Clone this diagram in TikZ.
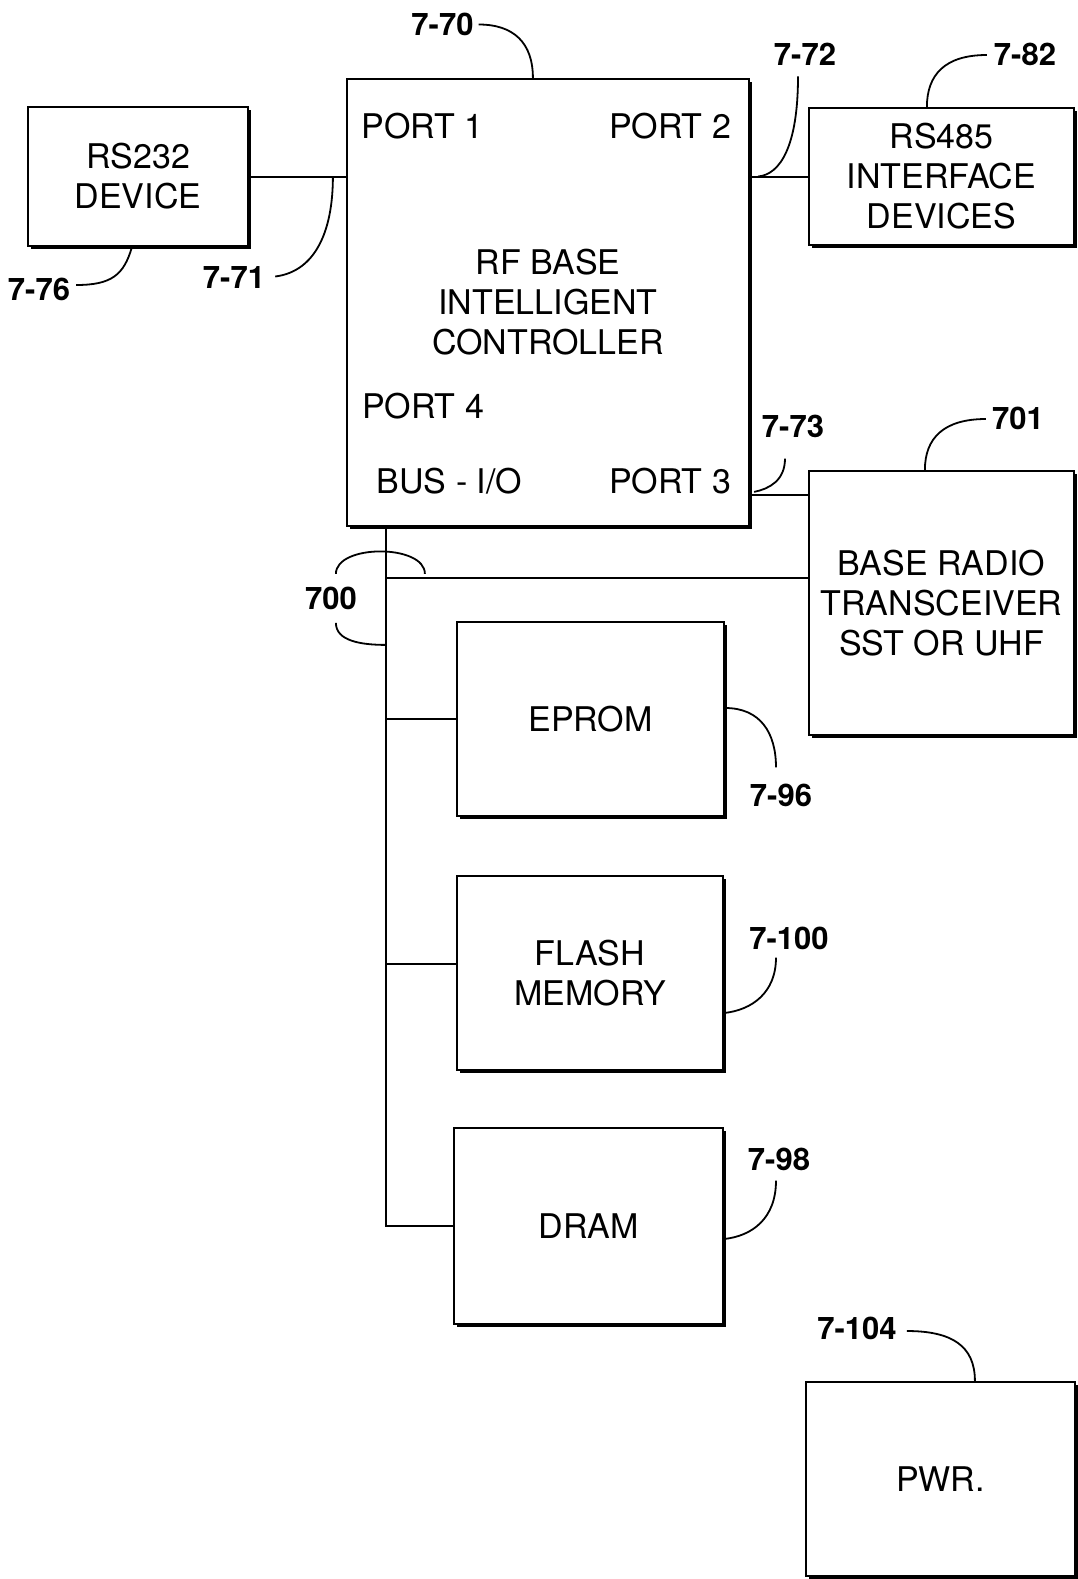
\documentclass[tikz,border=0pt]{standalone}
\usepackage{fontspec}
\setmainfont{TeX Gyre Heros}
\usetikzlibrary{calc, positioning, shadows}

\begin{document}
\begin{tikzpicture}[x=1pt, y=-1pt, % one unit per pixel, y runs down
 blk/.style = {draw, fill=white, line width=2.2pt, align=center,
               font=\fontsize{34}{40}\selectfont,
               drop shadow={shadow xshift=2.5pt, shadow yshift=-2.5pt,
                            fill=black, opacity=1}},
 txt/.style = {font=\fontsize{34}{40}\selectfont, inner sep=0pt},
 lbl/.style = {font=\bfseries\fontsize{31}{31}\selectfont, inner sep=0pt},
wire/.style = {line width=2pt},
lead/.style = {line width=1.8pt}
                    ]
	\useasboundingbox (0,0) rectangle (1078,1579);

	% blocks
	\node[blk, minimum width=220, minimum height=139] (rs232) at (138,176.5) {RS232\\DEVICE};
	\node[blk, minimum width=402, minimum height=447] (ctrl) at (548,302.5) {RF BASE\\INTELLIGENT\\CONTROLLER};
	\node[blk, minimum width=265, minimum height=137] (rs485) at (941.5,176.5) {RS485\\INTERFACE\\DEVICES};
	\node[blk, minimum width=265, minimum height=264] (radio) at (941.5,603) {BASE RADIO\\TRANSCEIVER\\SST OR UHF};
	\node[blk, minimum width=267, minimum height=194] (eprom) at (590.5,719) {EPROM};
	\node[blk, minimum width=266, minimum height=194] (flash) at (590,973) {FLASH\\MEMORY};
	\node[blk, minimum width=269, minimum height=196] (dram) at (588.5,1226) {DRAM};
	\node[blk, minimum width=269, minimum height=194] (pwr) at (940.5,1479) {PWR.};

	% ports of the controller
	\node[txt] (port1) at (422.5,126) {PORT 1};
	\node[txt] (port2) at (670,126) {PORT 2};
	\node[txt] (port4) at (423,406.5) {PORT 4};
	\node[txt] (busio) at (449.5,481.5) {BUS - I/O};
	\node[txt] (port3) at (670,481.5) {PORT 3};

	% links
	\coordinate (bus) at ($(ctrl.south west)+(40,0)$);
	\coordinate (p3) at ($(radio.north west)+(0,25)$);
	\coordinate (p7) at ($(radio.north west)+(0,108)$);
	\coordinate (fl) at ($(flash.west)+(0,-9)$);
	\draw[wire] (rs232.east) -- (rs232.east -| ctrl.west);
	\draw[wire] (ctrl.east |- rs485.west) -- (rs485.west);
	\draw[wire] (ctrl.east |- p3) -- (p3);
	\draw[wire] (bus) |- (dram.west);
	\draw[wire] (bus |- p7) -- (p7);
	\draw[wire] (bus |- eprom.west) -- (eprom.west);
	\draw[wire] (bus |- fl) -- (fl);

	% reference numerals
	\node[lbl] (l770) at (442.5,24.5) {7-70};
	\node[lbl] (l771) at (234,277.5) {7-71};
	\node[lbl] (l776) at (39,289) {7-76};
	\node[lbl] (l772) at (805,54) {7-72};
	\node[lbl] (l782) at (1025,54) {7-82};
	\node[lbl] (l773) at (793,426) {7-73};
	\node[lbl] (l701) at (1018,418) {701};
	\node[lbl] (l700) at (331,598) {700};
	\node[lbl] (l796) at (781,795) {7-96};
	\node[lbl] (l7100) at (789,938) {7-100};
	\node[lbl] (l798) at (779,1159) {7-98};
	\node[lbl] (l7104) at (857,1328) {7-104};

	% leader lines
	\draw[lead] ($(l770.east)+(5,0)$) .. controls +(35,0) and +(0,-35) .. ($(ctrl.north west)+(187,0)$);
	\draw[lead] ($(l771.east)+(10,-1)$) .. controls +(40,-5) and +(0,55) .. ($(rs232.east -| ctrl.west)+(-13,0)$);
	\draw[lead] ($(l776.east)+(6,-4)$) .. controls +(35,0) and +(-8,28) .. ($(rs232.south west)+(105,0)$);
	\draw[lead] ($(l772.south)+(-7,11)$) .. controls +(0,70) and +(22,-2) .. ($(ctrl.east |- rs485.west)+(8,0)$);
	\draw[lead] ($(l782.west)+(-7,1)$) .. controls +(-42,0) and +(0,-32) .. ($(rs485.north west)+(119,0)$);
	\draw[lead] ($(l773.south)+(-8,21)$) .. controls +(0,22) and +(15,-3) .. ($(ctrl.east |- p3)+(4,-3)$);
	\draw[lead] ($(l701.west)+(-6,1)$) .. controls +(-42,0) and +(0,-32) .. ($(radio.north west)+(117,0)$);
	\draw[lead] ($(eprom.east)+(0,-11)$) .. controls +(35,0) and +(0,-35) .. ($(l796.north)+(-5,-16)$);
	\draw[lead] ($(l7100.south)+(-13,8)$) .. controls +(0,35) and +(28,-3) .. ($(flash.east)+(0,40)$);
	\draw[lead] ($(l798.south)+(-3,10)$) .. controls +(0,38) and +(28,-3) .. ($(dram.east)+(0,13)$);
	\draw[lead] ($(l7104.east)+(10,3)$) .. controls +(45,0) and +(0,-35) .. ($(pwr.north west)+(170,0)$);

	% bus bracket
	\coordinate (j700) at (bus |- p7);
	\draw[lead] ($(j700)+(-50,-4)$) .. controls +(0,-30) and +(0,-30) .. ($(j700)+(39,-4)$);
	\draw[lead] ($(j700)+(-50,45)$) .. controls +(0,18) and +(-25,0) .. ($(j700)+(0,67)$);
\end{tikzpicture}
\end{document}
